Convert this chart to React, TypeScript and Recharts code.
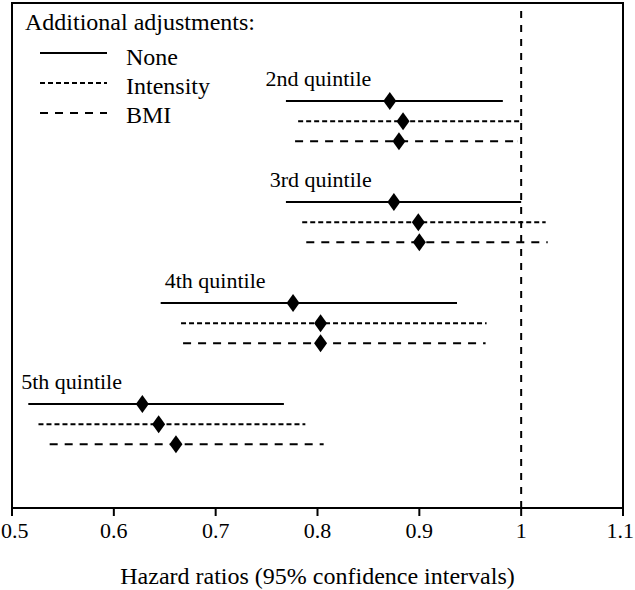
import { ComposedChart, Scatter, ErrorBar, XAxis, YAxis, ReferenceLine, ReferenceArea, Legend } from 'recharts';

const quintiles = ['2nd quintile', '3rd quintile', '4th quintile', '5th quintile'];
const labelAt = [0.749, 0.753, 0.650, 0.509];

const adjustments = ['None', 'Intensity', 'BMI'];

const noneHR = [0.871, 0.875, 0.776, 0.628];
const noneLo = [0.769, 0.769, 0.646, 0.516];
const noneHi = [0.982, 1.0, 0.937, 0.767];

const intensityHR = [0.884, 0.899, 0.803, 0.644];
const intensityLo = [0.781, 0.785, 0.666, 0.526];
const intensityHi = [1.0, 1.024, 0.966, 0.788];

const bmiHR = [0.88, 0.9, 0.803, 0.661];
const bmiLo = [0.778, 0.789, 0.668, 0.537];
const bmiHi = [0.996, 1.026, 0.965, 0.806];

const xTicks = [0.5, 0.6, 0.7, 0.8, 0.9, 1, 1.1];

const FONT = 'Liberation Serif, Tinos, DejaVu Serif, Times New Roman, serif';
const dashes = ['0', '5 3', '8 7'];

// row index: 5 per quintile group, one per adjustment
const toRows = (hr: number[], lo: number[], hi: number[], s: number) =>
  hr.map((v, g) => ({ hr: v, row: 5 * g + s + 5, ci: [v - lo[g], hi[g] - v] }));

const series = [
  toRows(noneHR, noneLo, noneHi, 0),
  toRows(intensityHR, intensityLo, intensityHi, 1),
  toRows(bmiHR, bmiLo, bmiHi, 2),
];

const labelRows = quintiles.map((name, g) => ({ hr: labelAt[g], row: 5 * g + 3.9, name }));

const Diamond = (p: any) => (
  <path
    d={`M${p.cx},${p.cy - 9} L${p.cx + 6.5},${p.cy} L${p.cx},${p.cy + 9} L${p.cx - 6.5},${p.cy} Z`}
    fill="#000"
  />
);

const GroupLabel = (p: any) => (
  <text x={p.cx} y={p.cy} dominantBaseline="central" style={{ fontFamily: FONT }} fontSize={22} fill="#000">
    {p.payload.name}
  </text>
);

// edge ticks are anchored inward so they are not clipped by the page edge
const XTick = (p: any) => {
  const first = p.index === 0;
  const last = p.index === xTicks.length - 1;
  const x = first ? 1 : last ? 634 : p.x;
  const anchor = first ? 'start' : last ? 'end' : 'middle';
  return (
    <text x={x} y={p.y} dy="0.71em" textAnchor={anchor} style={{ fontFamily: FONT }} fontSize={22} fill="#000">
      {p.payload.value}
    </text>
  );
};

const renderLegend = () => (
  <svg width={320} height={130} style={{ fontFamily: FONT }}>
    <text x={25} y={22} dominantBaseline="central" fontSize={24} fill="#000">
      Additional adjustments:
    </text>
    {adjustments.map((name, i) => (
      <g key={name}>
        <line x1={40} x2={107} y1={53 + i * 30} y2={53 + i * 30} stroke="#000" strokeWidth={2} strokeDasharray={dashes[i]} />
        <text x={126} y={57 + i * 29} dominantBaseline="central" fontSize={24} fill="#000">
          {name}
        </text>
      </g>
    ))}
  </svg>
);

export default function App() {
  return (
    <div style={{ position: 'absolute', left: 0, top: 0, background: '#fff', fontFamily: FONT }}>
      <ComposedChart width={635} height={590} margin={{ top: 3, right: 12, left: 12, bottom: 0 }} style={{ fontFamily: FONT }}>
        <XAxis
          type="number"
          dataKey="hr"
          domain={[0.5, 1.1]}
          ticks={xTicks}
          interval={0}
          height={82}
          tickSize={8}
          tickMargin={6}
          axisLine={{ stroke: '#000', strokeWidth: 2 }}
          tickLine={{ stroke: '#000', strokeWidth: 2 }}
          tick={<XTick />}
          label={{ value: 'Hazard ratios (95% confidence intervals)', position: 'insideBottom', offset: 6, fill: '#000', fontFamily: FONT, fontSize: 24 }}
        />
        <YAxis type="number" dataKey="row" domain={[0.15, 25.15]} reversed hide />
        <ReferenceArea x1={0.5} x2={1.1} y1={0.15} y2={25.15} fill="none" stroke="#000" strokeWidth={2} />
        <ReferenceLine x={1} stroke="#000" strokeWidth={2} strokeDasharray="7 7" />
        {series.map((data, s) => (
          <Scatter key={adjustments[s]} name={adjustments[s]} data={data} shape={Diamond} isAnimationActive={false}>
            <ErrorBar dataKey="ci" direction="x" width={0} stroke="#000" strokeWidth={2} strokeDasharray={dashes[s]} isAnimationActive={false} />
          </Scatter>
        ))}
        <Scatter data={labelRows} shape={GroupLabel} isAnimationActive={false} legendType="none" />
        <Legend
          content={renderLegend}
          layout="horizontal"
          verticalAlign="middle"
          wrapperStyle={{ top: 0, left: 0, width: 320, height: 130 }}
        />
      </ComposedChart>
    </div>
  );
}
